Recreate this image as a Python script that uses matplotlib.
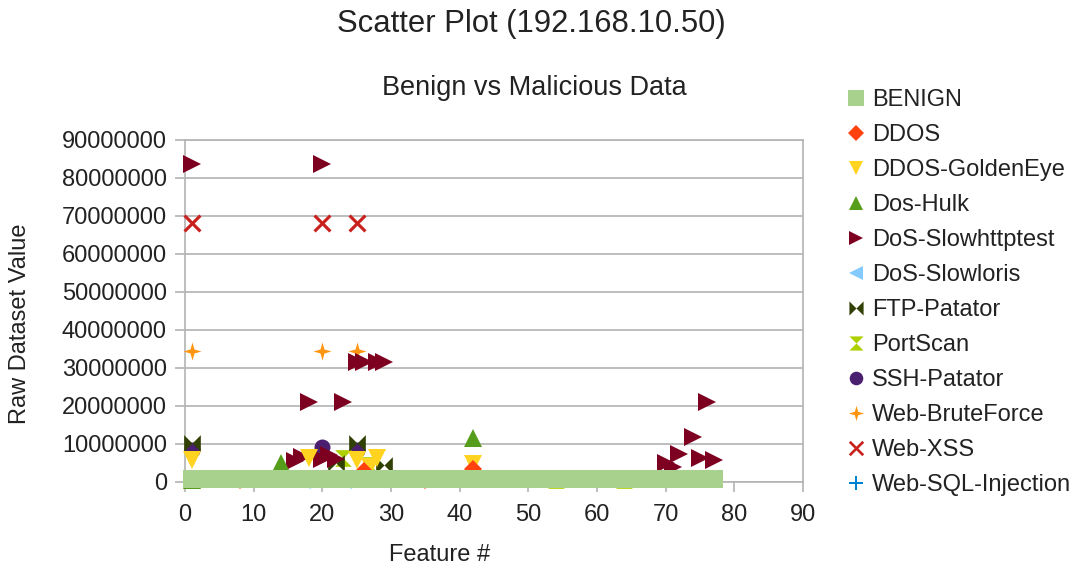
import numpy as np
import matplotlib
matplotlib.use('Agg')
import matplotlib.pyplot as plt
from matplotlib.ticker import FuncFormatter

plt.rcParams['font.family'] = ['Liberation Sans', 'DejaVu Sans']

# 数据
benign_x = list(range(1, 78))
benign_y = [800000, 700000, 900000, 800000, 700000, 800000, 900000, 800000, 700000, 800000,
            800000, 900000, 700000, 800000, 800000, 900000, 800000, 700000, 800000, 900000,
            800000, 800000, 700000, 900000, 800000, 800000, 700000, 800000, 900000, 800000,
            700000, 800000, 800000, 900000, 800000, 700000, 800000, 800000, 900000, 800000,
            700000, 800000, 900000, 800000, 800000, 700000, 800000, 900000, 800000, 800000,
            700000, 800000, 900000, 800000, 800000, 700000, 800000, 800000, 900000, 800000,
            700000, 800000, 900000, 800000, 800000, 700000, 800000, 800000, 900000, 800000,
            700000, 800000, 900000, 800000, 800000, 700000, 800000]

ddos_x = [26, 42, 8, 35]
ddos_y = [3000000, 3300000, 600000, 600000]

goldeneye_x = [1, 18, 25, 27, 28, 42]
goldeneye_y = [5800000, 6200000, 5800000, 4000000, 6300000, 4800000]

hulk_x = [14, 42, 1]
hulk_y = [4900000, 11500000, 600000]

slowhttp_x = [1, 20, 25, 26, 28, 29, 18, 23, 16, 17, 20, 21, 22, 70, 71, 72, 74, 75, 76, 77]
slowhttp_y = [83700000, 83700000, 31700000, 31700000, 31700000, 31700000, 21100000, 21100000,
              5500000, 6500000, 6000000, 7000000, 6000000, 4900000, 4000000, 7500000,
              11900000, 6200000, 21100000, 5800000]

slowloris_x = [17, 23]
slowloris_y = [600000, 600000]

ftp_x = [1, 25, 22, 29]
ftp_y = [10200000, 10200000, 5000000, 4500000]

portscan_x = [23, 27, 54, 64]
portscan_y = [6300000, 4500000, 600000, 600000]

ssh_x = [1, 20, 25]
ssh_y = [8500000, 9300000, 8500000]

brute_x = [1, 20, 25]
brute_y = [34500000, 34500000, 34500000]

xss_x = [1, 20, 25]
xss_y = [68200000, 68200000, 68200000]

sql_x = [20, 22]
sql_y = [600000, 600000]

# 自定义标记
bowtie = [(-1, -1), (-1, 1), (0, 0), (1, 1), (1, -1), (0, 0), (-1, -1)]
sandglass = [(-1, 1), (1, 1), (0, 0), (1, -1), (-1, -1), (0, 0), (-1, 1)]
star4 = [(0, 1), (0.22, 0.22), (1, 0), (0.22, -0.22), (0, -1), (-0.22, -0.22), (-1, 0), (-0.22, 0.22), (0, 1)]
t = 0.14
plus = np.array([(-t, 1), (t, 1), (t, t), (1, t), (1, -t), (t, -t), (t, -1), (-t, -1),
                 (-t, -t), (-1, -t), (-1, t), (-t, t), (-t, 1)])
rot = np.array([[np.cos(np.pi / 4), -np.sin(np.pi / 4)], [np.sin(np.pi / 4), np.cos(np.pi / 4)]])
xmark = plus @ rot.T

series = [
    ('BENIGN', benign_x, benign_y, 's', '#a9d18e', 13),
    ('DDOS', ddos_x, ddos_y, 'D', '#ff420e', 9.5),
    ('DDOS-GoldenEye', goldeneye_x, goldeneye_y, 'v', '#ffd320', 12.5),
    ('Dos-Hulk', hulk_x, hulk_y, '^', '#579d1c', 12.5),
    ('DoS-Slowhttptest', slowhttp_x, slowhttp_y, '>', '#7e0021', 12.5),
    ('DoS-Slowloris', slowloris_x, slowloris_y, '<', '#83caff', 12.5),
    ('FTP-Patator', ftp_x, ftp_y, bowtie, '#314004', 12),
    ('PortScan', portscan_x, portscan_y, sandglass, '#aecf00', 12),
    ('SSH-Patator', ssh_x, ssh_y, 'o', '#4b1f6f', 11.5),
    ('Web-BruteForce', brute_x, brute_y, star4, '#ff950e', 13),
    ('Web-XSS', xss_x, xss_y, xmark, '#c9211e', 13),
    ('Web-SQL-Injection', sql_x, sql_y, plus, '#0084d1', 12),
]

fig = plt.figure(figsize=(10.83, 5.72), dpi=100)
ax = fig.add_axes([185 / 1083, (572 - 482) / 572, (803 - 185) / 1083, (482 - 140) / 572])

# 前面的系列画在上层
for i, (name, xs, ys, mk, col, ms) in enumerate(series):
    ax.plot(xs, ys, linestyle='none', marker=mk, color=col, markersize=ms,
            markeredgewidth=0, label=name, clip_on=False, zorder=20 - i)

ax.set_xlim(0, 90)
ax.set_ylim(0, 90000000)
ax.set_xticks(range(0, 91, 10))
ax.set_yticks(range(0, 90000001, 10000000))
ax.yaxis.set_major_formatter(FuncFormatter(lambda v, p: '%d' % v))
ax.grid(axis='y', color='#b3b3b3', linewidth=1.2, zorder=0)
ax.set_axisbelow(True)
for s in ax.spines.values():
    s.set_color('#b3b3b3')
    s.set_linewidth(1.2)
ax.tick_params(colors='#b3b3b3', labelcolor='#222222', labelsize=17, length=7, width=1.2,
               direction='out')
ax.tick_params(axis='x', pad=9)
ax.tick_params(axis='y', pad=6)

fig.text(531 / 1083, 1 - 24 / 572, 'Scatter Plot (192.168.10.50)', ha='center', va='center',
         fontsize=22.3, color='#222222')
fig.text(534 / 1083, 1 - 88 / 572, 'Benign vs Malicious Data', ha='center', va='center',
         fontsize=19.5, color='#222222')
fig.text(440 / 1083, 1 - 555 / 572, 'Feature #', ha='center', va='center', fontsize=17,
         color='#222222')
fig.text(20 / 1083, 1 - 324 / 572, 'Raw Dataset Value', ha='center', va='center', fontsize=17,
         rotation=90, color='#222222')

leg = fig.legend(loc='upper left', bbox_to_anchor=(847 / 1083, 1 - 89 / 572), frameon=False,
                 fontsize=17, handlelength=0.75, handletextpad=0.3, labelspacing=0.55,
                 borderaxespad=0, borderpad=0, markerscale=0.85)
for txt in leg.get_texts():
    txt.set_color('#222222')

plt.savefig('out.png', dpi=100)
